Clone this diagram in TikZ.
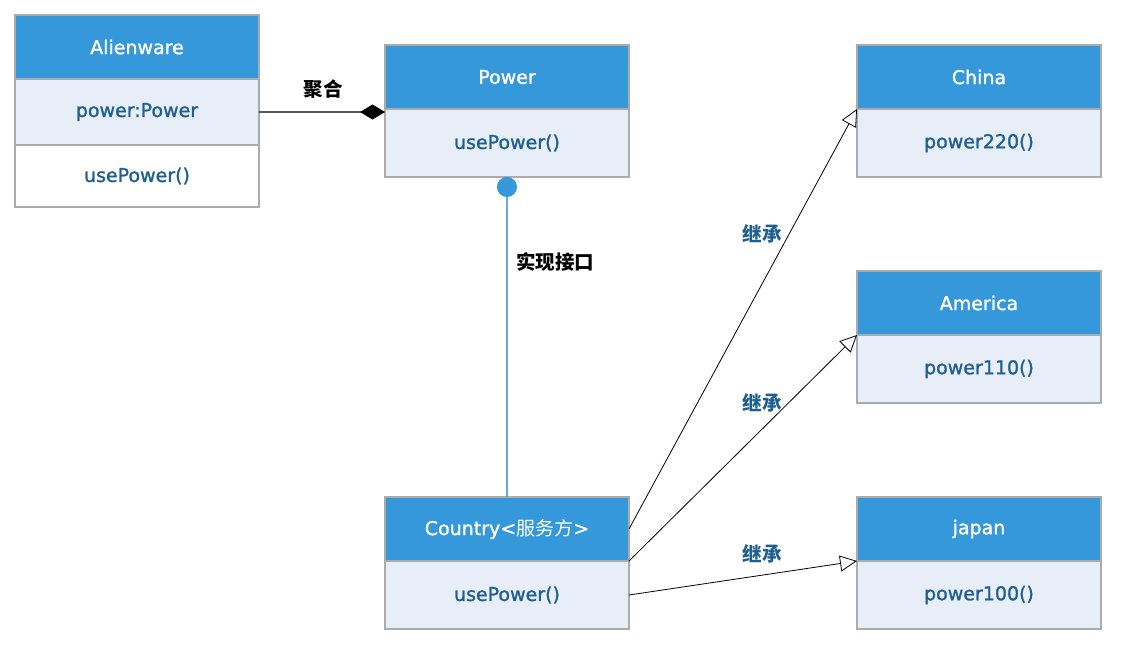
\documentclass[tikz,border=0pt]{standalone}
\usepackage{fontspec}
\setmainfont{DejaVu Sans}[RawFeature={embolden=1.3}]
\newfontfamily\cjk{Noto Sans CJK SC}
\usepackage{xcolor}
\usetikzlibrary{positioning,arrows.meta}
\definecolor{vheadblue}{HTML}{3498DB}
\definecolor{vbodyblue}{HTML}{E8EEF7}
\definecolor{vborder}{HTML}{ABABAB}
\definecolor{vtext}{HTML}{1F5F8F}
\definecolor{vline}{HTML}{5DADE2}
\definecolor{vdarkgray}{HTML}{555555}

\tikzset{
	classhead/.style={draw=vborder, line width=1.5pt, fill=vheadblue, text=white, minimum width=244pt, minimum height=64pt, inner sep=0pt, outer sep=0pt, font=\fontsize{19}{22}\selectfont},
	classbody/.style={draw=vborder, line width=1.5pt, fill=vbodyblue, text=vtext, minimum width=244pt, minimum height=68pt, inner sep=0pt, outer sep=0pt, font=\fontsize{19}{22}\selectfont},
	rellabel/.style={font=\cjk\bfseries\fontsize{19.5}{22}\selectfont},
	agg/.style={draw=vdarkgray, line width=1.5pt, -{Diamond[length=25pt, width=15pt, fill=black, color=black]}},
	iface/.style={draw=vline, line width=2pt, -{Circle[length=20pt, width=20pt, fill=vheadblue, color=vheadblue]}},
	inh/.style={draw=black, line width=0.8pt, -{Triangle[open, length=17pt, width=16pt, fill=white]}},
}

\begin{document}
\begin{tikzpicture}[x=1pt, y=-1pt]
		\useasboundingbox (0,0) rectangle (1128,654);
		% classes
		\node[classhead] (alien) at (137,47) {Alienware};
		\node[classbody, minimum height=66pt, below=0pt of alien] (alienattr) {power:Power};
		\node[classbody, minimum height=62pt, fill=white, below=0pt of alienattr] (alienop) {usePower()};
		\node[classhead] (power) at (507,77) {Power};
		\node[classbody, below=0pt of power] (powerop) {usePower()};
		\node[classhead] (country) at (507,529) {Country<{\cjk 服务方}>};
		\node[classbody, below=0pt of country] (countryop) {usePower()};
		\node[classhead] (china) at (979,77) {China};
		\node[classbody, below=0pt of china] (chinaop) {power220()};
		\node[classhead] (america) at (979,303) {America};
		\node[classbody, below=0pt of america] (americaop) {power110()};
		\node[classhead] (japan) at (979,529) {japan};
		\node[classbody, below=0pt of japan] (japanop) {power100()};
		% relations
		\draw[agg] (alienattr.east) -- (alienattr.east -| powerop.west);
		\draw[iface] (country.north) -- (powerop.south);
		\draw[inh] (country.east) -- (chinaop.north west);
		\draw[inh] (countryop.north east) -- (americaop.north west);
		\draw[inh] (countryop.east) -- (japanop.north west);
		% labels
		\node[rellabel] (aggname) at (323,89) {聚合};
		\node[rellabel] (ifacename) at (555,262) {实现接口};
		\node[rellabel, text=vtext] (inhchina) at (762,234) {继承};
		\node[rellabel, text=vtext] (inhamerica) at (762,403) {继承};
		\node[rellabel, text=vtext] (inhjapan) at (762,554) {继承};
	\end{tikzpicture}
\end{document}
